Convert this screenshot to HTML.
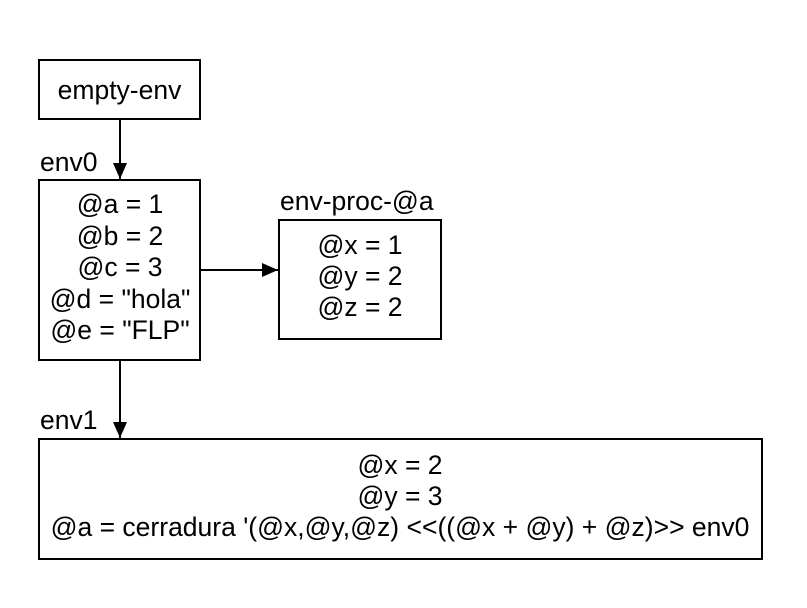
<!DOCTYPE html>
<html><head><meta charset="utf-8"><style>
html,body{margin:0;padding:0;background:#fff;}
svg{display:block;font-family:"Liberation Sans",Arial,sans-serif;}
text{font-size:26.5px;fill:#000;}
</style></head><body>
<svg width="807" height="608" viewBox="0 0 807 608">
<defs>
<marker id="ah2" viewBox="0 0 10 10" refX="10" refY="5" markerWidth="16" markerHeight="14" markerUnits="userSpaceOnUse" orient="auto" preserveAspectRatio="none"><path d="M0,0 L10,5 L0,10 z" fill="#000"/></marker></defs>
<g>
<rect x="39" y="60" width="161" height="59" fill="#fff" stroke="#000" stroke-width="2"/>
<text x="119.5" y="99" text-anchor="middle">empty-env</text></g>
<line x1="120" y1="120" x2="120" y2="179" stroke="#000" stroke-width="2" marker-end="url(#ah2)"/>
<text x="40" y="171">env0</text>
<g>
<rect x="39" y="180" width="161" height="180" fill="#fff" stroke="#000" stroke-width="2"/>
<text x="120" y="213" text-anchor="middle">@a = 1</text>
<text x="120" y="245" text-anchor="middle">@b = 2</text>
<text x="120" y="276" text-anchor="middle">@c = 3</text>
<text x="120" y="308" text-anchor="middle">@d = "hola"</text>
<text x="120" y="339" text-anchor="middle">@e = "FLP"</text></g>
<line x1="201" y1="270" x2="278" y2="270" stroke="#000" stroke-width="2" marker-end="url(#ah2)"/>
<text x="280" y="210">env-proc-@a</text>
<g>
<rect x="279" y="220" width="162" height="119" fill="#fff" stroke="#000" stroke-width="2"/>
<text x="360" y="254" text-anchor="middle">@x = 1</text>
<text x="360" y="285" text-anchor="middle">@y = 2</text>
<text x="360" y="316" text-anchor="middle">@z = 2</text></g>
<line x1="120" y1="361" x2="120" y2="438" stroke="#000" stroke-width="2" marker-end="url(#ah2)"/>
<text x="40" y="429">env1</text>
<g>
<rect x="39" y="439" width="723" height="120" fill="#fff" stroke="#000" stroke-width="2"/>
<text x="400" y="474" text-anchor="middle">@x = 2</text>
<text x="400" y="505" text-anchor="middle">@y = 3</text>
<text x="400" y="536" text-anchor="middle">@a = cerradura '(@x,@y,@z) &lt;&lt;((@x + @y) + @z)&gt;&gt; env0</text></g>
</svg>
</body></html>
